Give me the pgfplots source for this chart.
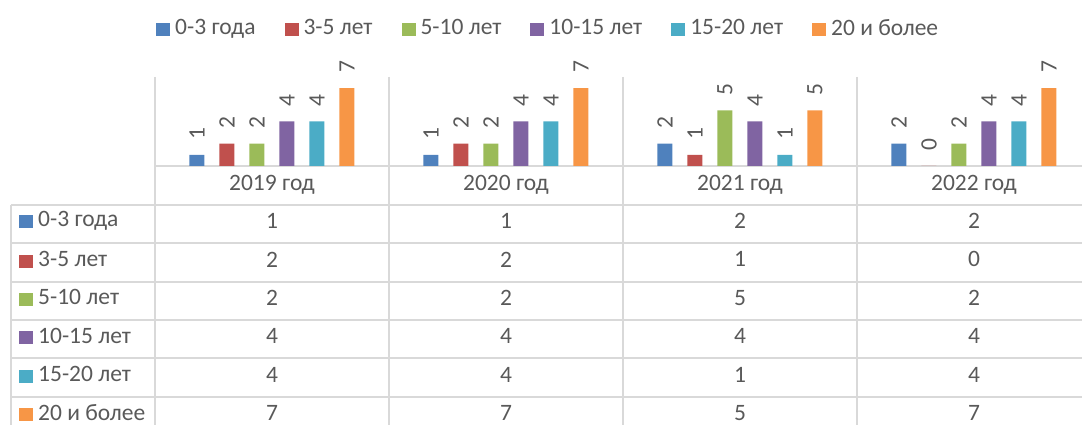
\documentclass[border=0pt]{standalone}
\usepackage{fontspec}
\setmainfont{Carlito}
\usepackage{graphicx}
\usepackage{pgfplots}
\usepackage{pgfplotstable}
\pgfplotsset{compat=1.18}
\definecolor{c1}{HTML}{4F81BD}
\definecolor{c2}{HTML}{C0504D}
\definecolor{c3}{HTML}{9BBB59}
\definecolor{c4}{HTML}{8064A2}
\definecolor{c5}{HTML}{4BACC6}
\definecolor{c6}{HTML}{F79646}
\definecolor{txt}{HTML}{595959}
\definecolor{gridc}{HTML}{D9D9D9}

\pgfplotstableread{
x s1 s2 s3 s4 s5 s6
0 1 2 2 4 4 7
1 1 2 2 4 4 7
2 2 1 5 4 1 5
3 2 0 2 4 4 7
}\data

\newcommand{\fs}{\fontsize{23.5}{27}\selectfont}
\newcommand{\sq}[1]{\textcolor{#1}{\rule[-1pt]{14pt}{13pt}}}

\pgfplotsset{
  barst/.style={forget plot, ybar, bar width=15pt, draw=none,
    bar shift=#1pt,
    nodes near coords={\rotatebox{90}{\pgfplotspointmeta}},
    point meta=explicit symbolic,
    every node near coord/.append style={anchor=south, inner sep=0pt, yshift=15pt, xshift=#1pt}},
  tabst/.style={forget plot, draw=none, mark=none,
    nodes near coords, point meta=explicit symbolic,
    nodes near coords align={anchor=center}},
}

\begin{document}
\begin{tikzpicture}
\begin{axis}[
  at={(11pt,0pt)}, anchor=south west,
  scale only axis, width=1071pt, height=348pt,
  xmin=-1.11538, xmax=3.46154, ymin=-23.281, ymax=8,
  axis lines=none, clip=false,
  font=\fs,
  legend style={at={(0.1354,1.1408)}, anchor=west, draw=none, fill=none,
    inner xsep=0pt, font=\fs, text=txt, legend columns=6,
    nodes={inner xsep=0pt},
    /tikz/every even column/.append style={column sep=29pt}},
  nodes near coords style={font=\fs, text=txt},
]
% grid lines
\draw[gridc, line width=1.3pt] (axis cs:-0.5,0) -- (axis cs:3.46154,0);
\draw[gridc, line width=1.3pt] (axis cs:-1.11538,-3.506) -- (axis cs:3.46154,-3.506);
\draw[gridc, line width=1.3pt] (axis cs:-1.11538,-6.921) -- (axis cs:3.46154,-6.921);
\draw[gridc, line width=1.3pt] (axis cs:-1.11538,-10.427) -- (axis cs:3.46154,-10.427);
\draw[gridc, line width=1.3pt] (axis cs:-1.11538,-13.843) -- (axis cs:3.46154,-13.843);
\draw[gridc, line width=1.3pt] (axis cs:-1.11538,-17.258) -- (axis cs:3.46154,-17.258);
\draw[gridc, line width=1.3pt] (axis cs:-1.11538,-20.764) -- (axis cs:3.46154,-20.764);
\draw[gridc, line width=1.3pt] (axis cs:-0.5,8) -- (axis cs:-0.5,-23.281);
\draw[gridc, line width=1.3pt] (axis cs:0.5,8) -- (axis cs:0.5,-23.281);
\draw[gridc, line width=1.3pt] (axis cs:1.5,8) -- (axis cs:1.5,-23.281);
\draw[gridc, line width=1.3pt] (axis cs:2.5,8) -- (axis cs:2.5,-23.281);
\draw[gridc, line width=1.3pt] (axis cs:-1.11538,-3.506) -- (axis cs:-1.11538,-23.281);

\addlegendimage{empty legend}\addlegendentry{\sq{c1}\hspace{5pt}0-3 года}
\addlegendimage{empty legend}\addlegendentry{\sq{c2}\hspace{5pt}3-5 лет}
\addlegendimage{empty legend}\addlegendentry{\sq{c3}\hspace{5pt}5-10 лет}
\addlegendimage{empty legend}\addlegendentry{\sq{c4}\hspace{5pt}10-15 лет}
\addlegendimage{empty legend}\addlegendentry{\sq{c5}\hspace{5pt}15-20 лет}
\addlegendimage{empty legend}\addlegendentry{\sq{c6}\hspace{5pt}20 и более}

% bars
\addplot[barst=-75, fill=c1] table[x=x, y=s1, meta=s1]{\data};
\addplot[barst=-45, fill=c2] table[x=x, y=s2, meta=s2]{\data};
\addplot[barst=-15, fill=c3] table[x=x, y=s3, meta=s3]{\data};
\addplot[barst=15, fill=c4] table[x=x, y=s4, meta=s4]{\data};
\addplot[barst=45, fill=c5] table[x=x, y=s5, meta=s5]{\data};
\addplot[barst=75, fill=c6] table[x=x, y=s6, meta=s6]{\data};

% table values
\addplot[tabst] table[x=x, y expr=-4.944, meta=s1]{\data};
\addplot[tabst] table[x=x, y expr=-8.396, meta=s2]{\data};
\addplot[tabst] table[x=x, y expr=-11.847, meta=s3]{\data};
\addplot[tabst] table[x=x, y expr=-15.299, meta=s4]{\data};
\addplot[tabst] table[x=x, y expr=-18.751, meta=s5]{\data};
\addplot[tabst] table[x=x, y expr=-22.202, meta=s6]{\data};

% category labels
\node[text=txt, font=\fs] at (axis cs:0,-1.708) {2019 год};
\node[text=txt, font=\fs] at (axis cs:1,-1.708) {2020 год};
\node[text=txt, font=\fs] at (axis cs:2,-1.708) {2021 год};
\node[text=txt, font=\fs] at (axis cs:3,-1.708) {2022 год};

% row headers
\node[anchor=west, text=txt, font=\fs, inner xsep=0pt] at (axis cs:-1.0812,-4.944) {\sq{c1}\hspace{5pt}0-3 года};
\node[anchor=west, text=txt, font=\fs, inner xsep=0pt] at (axis cs:-1.0812,-8.396) {\sq{c2}\hspace{5pt}3-5 лет};
\node[anchor=west, text=txt, font=\fs, inner xsep=0pt] at (axis cs:-1.0812,-11.847) {\sq{c3}\hspace{5pt}5-10 лет};
\node[anchor=west, text=txt, font=\fs, inner xsep=0pt] at (axis cs:-1.0812,-15.299) {\sq{c4}\hspace{5pt}10-15 лет};
\node[anchor=west, text=txt, font=\fs, inner xsep=0pt] at (axis cs:-1.0812,-18.751) {\sq{c5}\hspace{5pt}15-20 лет};
\node[anchor=west, text=txt, font=\fs, inner xsep=0pt] at (axis cs:-1.0812,-22.202) {\sq{c6}\hspace{5pt}20 и более};
\end{axis}
\pgfresetboundingbox
\path[use as bounding box] (0,0) rectangle (1082pt,425pt);
\end{tikzpicture}
\end{document}
